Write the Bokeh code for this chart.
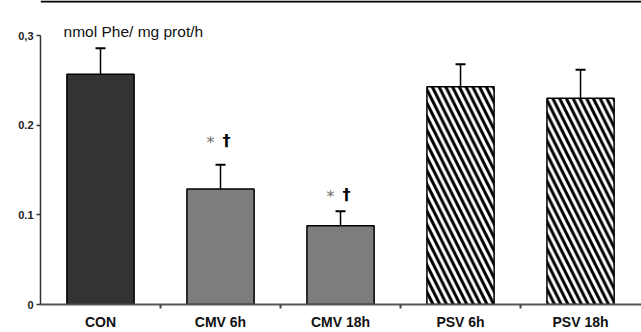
from bokeh.plotting import figure
from bokeh.models import Range1d, FixedTicker, Whisker, ColumnDataSource, Label, Span, TeeHead
from bokeh.core.properties import value
from bokeh.embed import file_html
from bokeh.resources import INLINE

groups = ["CON", "CMV 6h", "CMV 18h", "PSV 6h", "PSV 18h"]
means = [0.257, 0.129, 0.088, 0.243, 0.230]
sems = [0.029, 0.027, 0.016, 0.025, 0.032]
fills = ["#333333", "#7d7d7d", "#7d7d7d", "white", "white"]
hatches = [" ", " ", " ", "left_diagonal_line", "left_diagonal_line"]
y_ticks = [0, 0.1, 0.2, 0.3]
y_tick_labels = ["0", "0.1", "0.2", "0,3"]
sig_groups = ["CMV 6h", "CMV 18h"]
sig_y = [0.183, 0.123]
unit_text = "nmol Phe/ mg prot/h"

xs = list(range(len(groups)))
src = ColumnDataSource(dict(
    x=xs, mean=means,
    upper=[m + s for m, s in zip(means, sems)],
    fill=fills, hatch=hatches,
))

Y_END = 0.3392
p = figure(width=641, height=332, x_range=Range1d(-0.5, 4.508), y_range=Range1d(0, Y_END),
           output_backend="svg", toolbar_location=None,
           min_border_left=40, min_border_right=0, min_border_top=0, min_border_bottom=25)
p.grid.visible = False
p.outline_line_color = None
p.background_fill_color = "white"
p.border_fill_color = "white"

p.vbar(x="x", top="mean", bottom=0, width=0.56, source=src, fill_color="fill",
       line_color="black", line_width=1.5, hatch_pattern="hatch", hatch_color="black",
       hatch_scale=13.5, hatch_weight=3)

w = Whisker(source=src, base="x", upper="upper", lower="mean", lower_head=None,
            upper_head=TeeHead(size=10, line_width=2, line_color="black"),
            line_width=1.5, line_color="black", level="glyph")
p.add_layout(w)

sig_x = [groups.index(g) for g in sig_groups]
p.text(x=sig_x, y=sig_y, text=["*"] * len(sig_x), x_offset=-10, y_offset=2, text_align="center",
       text_baseline="middle", text_font=value("DejaVu Sans"), text_font_size="16px",
       text_color="#707070")
p.text(x=sig_x, y=sig_y, text=["\u2020"] * len(sig_x), x_offset=6, text_align="center",
       text_baseline="middle", text_font=value("DejaVu Sans"), text_font_size="16px",
       text_font_style="bold", text_color="black")

p.add_layout(Label(x=-0.308, y=0.305, text=unit_text, text_font="Liberation Sans",
                   text_font_size="15.5px", text_color="#111111",
                   text_baseline="alphabetic"))

p.add_layout(Span(location=Y_END - 0.0011, dimension="width", line_color="black", line_width=2))

xa = p.xaxis[0]
xa.ticker = FixedTicker(ticks=xs, minor_ticks=[i + 0.5 for i in xs[:-1]])
xa.major_label_overrides = {i: g for i, g in zip(xs, groups)}
xa.major_tick_out = 0
xa.major_tick_in = 0
xa.minor_tick_out = 4
xa.minor_tick_in = 0
xa.minor_tick_line_width = 2
xa.minor_tick_line_color = "#444444"
xa.axis_line_width = 2
xa.axis_line_color = "#555555"
xa.major_label_standoff = 5
xa.major_label_text_font = "Liberation Sans"
xa.major_label_text_font_style = "bold"
xa.major_label_text_font_size = "14px"
xa.major_label_text_color = "#111111"

ya = p.yaxis[0]
ya.ticker = FixedTicker(ticks=y_ticks, minor_ticks=[])
ya.major_label_overrides = {t: l for t, l in zip(y_ticks, y_tick_labels)}
ya.bounds = (0, 0.3)
ya.major_tick_out = 4
ya.major_tick_in = 0
ya.major_tick_line_width = 1.5
ya.major_tick_line_color = "#333333"
ya.axis_line_width = 1.5
ya.axis_line_color = "#333333"
ya.major_label_standoff = 3
ya.major_label_text_font = "Liberation Sans"
ya.major_label_text_font_style = "bold"
ya.major_label_text_font_size = "11px"
ya.major_label_text_color = "#222222"

open("out.html", "w").write(file_html(p, INLINE))
